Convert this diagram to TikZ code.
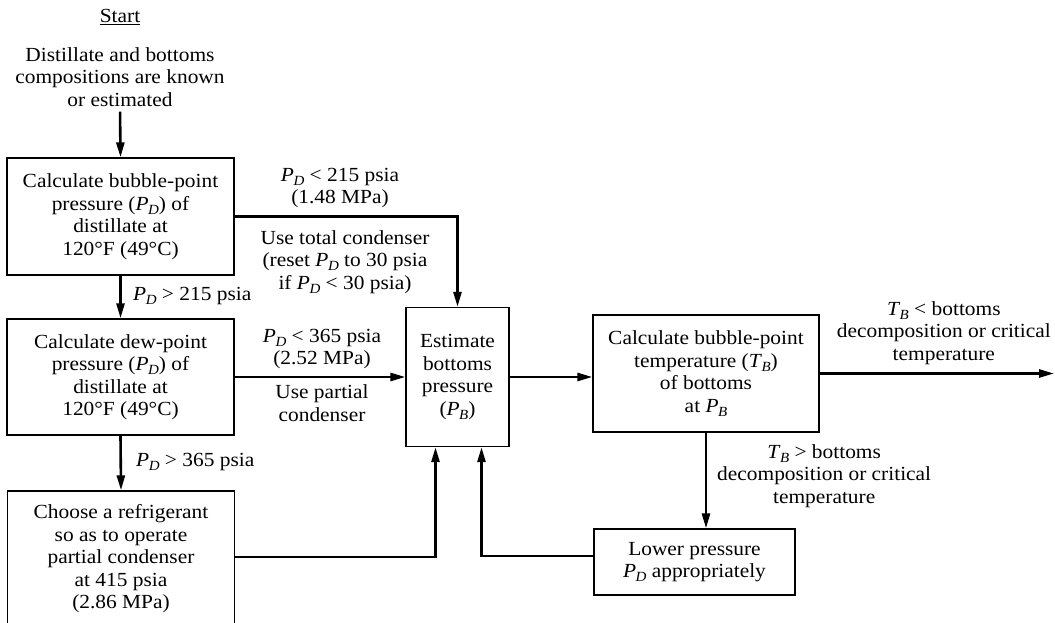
\documentclass[tikz,border=0pt]{standalone}
\usepackage{fontspec}
\setmainfont[FakeStretch=1.07]{Liberation Serif}
\usetikzlibrary{arrows.meta}
\newcommand{\varsub}[2]{\textit{#1}\kern-0.5pt\raisebox{-0.45ex}{\fontsize{14}{14}\selectfont\textit{#2}}}
\begin{document}
\begin{tikzpicture}[x=1pt,y=-1pt,
  font=\fontsize{20}{22.5}\selectfont,
  box/.style={draw, line width=1.3pt, align=center, inner sep=0pt},
  lbl/.style={align=center, inner sep=0pt},
  flow/.style={line width=2.6pt, -{Triangle[length=15pt,width=8pt]}},
]
\useasboundingbox (0,0) rectangle (1055,622);

\node[lbl] (start) at (120,17) {\underline{Start}};
\node[lbl] (dist) at (120,77) {Distillate and bottoms\\compositions are known\\or estimated};

\node[box, minimum width=227pt, minimum height=117pt] (b1) at (120.5,216.5)
  {Calculate bubble-point\\pressure (\varsub{P}{D}) of\\distillate at\\120°F (49°C)};
\node[box, minimum width=227pt, minimum height=116pt] (b2) at (120.5,377)
  {Calculate dew-point\\pressure (\varsub{P}{D}) of\\distillate at\\120°F (49°C)};
\node[box, minimum width=227pt, minimum height=136pt] (b3) at (121,559)
  {Choose a refrigerant\\so as to operate\\partial condenser\\at 415 psia\\(2.86 MPa)};
\node[box, minimum width=103pt, minimum height=139pt] (b4) at (457.5,377)
  {Estimate\\bottoms\\pressure\\(\varsub{P}{B})};
\node[box, minimum width=226pt, minimum height=117pt] (b5) at (706,373.5)
  {Calculate bubble-point\\temperature (\varsub{T}{B})\\of bottoms\\at \varsub{P}{B}};
\node[box, minimum width=201pt, minimum height=66pt] (b6) at (694.5,562)
  {Lower pressure\\\varsub{P}{D} appropriately};

\coordinate (out) at (1054,373.5);

% labels
\node[lbl, anchor=west] (l1) at (133,296) {\varsub{P}{D} > 215 psia};
\node[lbl, anchor=west] (l2) at (136,462) {\varsub{P}{D} > 365 psia};
\node[lbl] (l3) at (340,188) {\varsub{P}{D} < 215 psia\\(1.48 MPa)};
\node[lbl] (l4) at (345,262) {Use total condenser\\(reset \varsub{P}{D} to 30 psia\\if \varsub{P}{D} < 30 psia)};
\node[lbl] (l5) at (322,349) {\varsub{P}{D} < 365 psia\\(2.52 MPa)};
\node[lbl] (l6) at (322,403) {Use partial\\condenser};
\node[lbl, anchor=east] (l7) at (1051,333) {\varsub{T}{B} < bottoms\\decomposition or critical\\temperature};
\node[lbl, anchor=west] (l8) at (717,476) {\varsub{T}{B} > bottoms\\decomposition or critical\\temperature};

% connectors
\draw[flow, shorten <=5pt] (dist.south) -- (b1.north);
\draw[flow] (b1.south) -- (b2.north);
\draw[flow] (b2.south) -- (b3.north);
\draw[flow] (b1.east) -| (b4.north);
\draw[flow] (b2.east) -- (b4.west);
\draw[flow] (b3.east |- 0,557) -| ([xshift=-22pt]b4.south);
\draw[flow] ([yshift=6pt]b6.west) -| ([xshift=24pt]b4.south);
\draw[flow] (b4.east) -- (b4.east -| b5.west);
\draw[flow] (b5.east) -- (out);
\draw[flow] (b5.south) -- (b5.south |- b6.north);
\end{tikzpicture}
\end{document}
